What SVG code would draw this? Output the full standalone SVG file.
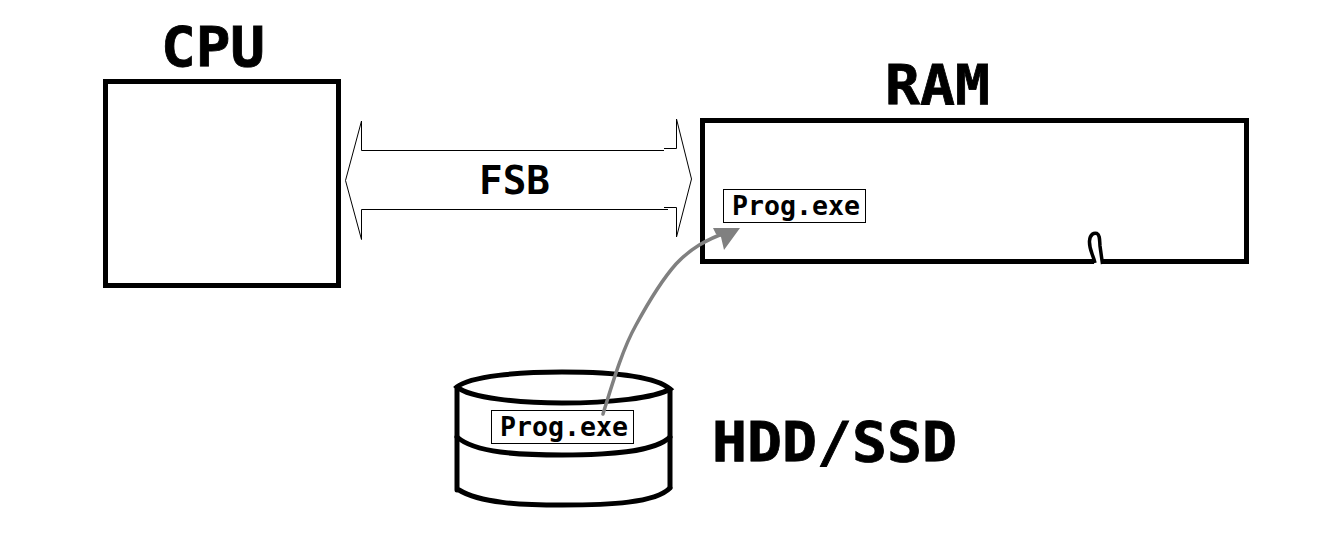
<svg xmlns="http://www.w3.org/2000/svg" width="1323" height="542" viewBox="0 0 1323 542">
<style>
.t{font-family:"DejaVu Sans Mono","Liberation Mono",monospace;font-weight:700;fill:#000}
.big{font-size:56px;stroke:#000;stroke-width:.8}
.sm{font-size:26px}
.box{fill:#fff;stroke:#000;stroke-width:5}
.thin{fill:none;stroke:#000;stroke-width:1}
.pen{fill:none;stroke:#000;stroke-width:5;stroke-linecap:round}
.gray{fill:none;stroke:#808080;stroke-width:3.500;stroke-linecap:round;stroke-linejoin:round}
.tag{fill:#fff;stroke:#000;stroke-width:1}
</style>
<rect width="1323" height="542" fill="#fff"/>
<g id="cpu">
<rect class="box" x="105.500" y="81.500" width="233" height="204"/>
<text class="t big" x="161" y="66" textLength="104" lengthAdjust="spacingAndGlyphs">CPU</text>
</g>
<g id="ram">
<rect class="box" x="702.500" y="120.500" width="544" height="141"/>
<path d="M1094 259h8v6h-8z" fill="#fff"/>
<path d="M1095 263C1093 254 1089 250 1089.500 241C1090 234 1094 232.500 1097 233.500C1100 235 1099.500 240 1100 246L1102.500 264" fill="none" stroke="#000" stroke-width="3.500"/>
<text class="t big" x="885" y="104" textLength="105" lengthAdjust="spacingAndGlyphs">RAM</text>
<rect class="tag" x="723.500" y="189.500" width="142" height="33"/>
<text class="t sm" x="732" y="215" textLength="128" lengthAdjust="spacingAndGlyphs">Prog.exe</text>
</g>
<g id="fsb">
<path class="thin" d="M664 150.500H361.500V121L345.500 180.500L361.500 239.500V209.500H668M664 207.500H676.500V237L691.500 179L676.500 119V148.500H664"/>
<text class="t" x="479" y="194" font-size="39" textLength="71" lengthAdjust="spacingAndGlyphs">FSB</text>
</g>
<g id="hdd">
<path class="pen" d="M457 387C470 376 520 372 562 372C610 372 655 376 670 389C655 398 610 403 562 403C520 403 470 398 457 387Z"/>
<path class="pen" d="M457 389V490M670 390V487"/>
<path class="pen" d="M457 437C475 453 520 455 562 455C610 455 655 452 670 437"/>
<path class="pen" d="M459 490C480 503 520 505 562 505C610 505 655 503 670 488"/>
<rect class="tag" x="491.500" y="410.500" width="142" height="33"/>
<text class="t sm" x="500" y="436" textLength="128" lengthAdjust="spacingAndGlyphs">Prog.exe</text>
<text class="t big" x="712" y="461" textLength="245" lengthAdjust="spacingAndGlyphs">HDD/SSD</text>
</g>
<g id="connectors">
<path class="gray" d="M603 414C612 385 622 350 636 325C648 303 660 282 676 264C690 249 705 240 730 231"/>
<path d="M713 228L740 228L724 250L721 237L716 234Z" fill="#808080"/>
</g>
</svg>
